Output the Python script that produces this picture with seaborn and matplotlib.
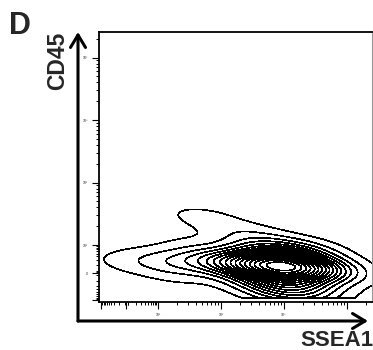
import matplotlib
matplotlib.use("Agg")
import matplotlib.pyplot as plt
import numpy as np
import seaborn as sns

# population, in axis units (decades on a logicle-like scale)
ssea1 = [3.98, 3.6, 4.35, 3.98, 3.98, 3.3, 4.65, 3.6, 4.35, 3.6, 4.35, 4.85, 3.98, 4.3,
         3.0, 2.6, 2.2, 1.8, 1.4, 2.6, 2.3,
         2.6, 2.85, 3.3, 3.6]
cd45 = [1.67, 1.68, 1.65, 1.88, 1.46, 1.70, 1.62, 1.92, 1.90, 1.44, 1.42, 1.60, 1.26, 1.25,
        1.72, 1.73, 1.73, 1.73, 1.72, 1.98, 1.50,
        2.48, 2.40, 2.20, 2.12]
counts = [30, 14, 14, 8, 10, 8, 5, 4, 4, 5, 5, 1.5, 6, 4,
          5, 3.5, 2.5, 1.5, 0.8, 1.2, 1.0,
          0.9, 1.0, 1.3, 1.5]

x_major = [1.1, 1.5, 2, 3, 4, 5]
x_labels = ["", "", "10²", "10³", "10⁴", ""]
y_major = [1.12, 1.55, 2, 3, 4, 5]
y_labels = ["", "0", "10²", "10³", "10⁴", "10⁵"]


def decade_minor(lo, hi):
    k = np.arange(2, 10)
    return list(lo + (hi - lo) * np.log10(k))


def setup_style():
    sns.set_theme(style="white")
    plt.rcParams.update({
        "font.family": ["Liberation Sans", "DejaVu Sans"],
        "axes.linewidth": 1.3,
    })


def main():
    setup_style()
    fig = plt.figure(figsize=(3.73, 3.5), dpi=100)
    ax = fig.add_axes([99 / 373, 48 / 350, 273 / 373, 270 / 350])

    sns.kdeplot(x=ssea1, y=cd45, weights=counts, levels=18, thresh=0.02,
                bw_adjust=1.0, fill=True, gridsize=250,
                clip=((1.0, 5.5), (1.15, 5.5)), ax=ax)
    # outline-only contour bands, closed along the lower edge like the original
    cset = ax.collections[-1]
    cset.set_facecolor("none")
    cset.set_edgecolor("black")
    cset.set_linewidth(0.45)

    ax.set_xlim(1.065, 5.4)
    ax.set_ylim(1.09, 5.41)
    ax.set_xlabel("")
    ax.set_ylabel("")

    for side in ["left", "bottom", "top"]:
        ax.spines[side].set_color("black")
    ax.spines["right"].set_color("#999999")
    ax.spines["right"].set_linewidth(0.8)

    xm = decade_minor(2, 3) + decade_minor(3, 4) + decade_minor(4, 5) + decade_minor(5, 6)[:1]
    xm += decade_minor(1.5, 2) + [1.5 - 0.4 * v for v in np.log10(np.arange(2, 10))]
    xm += [1.48, 1.52, 1.53]
    ym = decade_minor(2, 3) + decade_minor(3, 4) + decade_minor(4, 5) + decade_minor(5, 6)[:1]
    ym += decade_minor(1.55, 2) + [1.55 - 0.43 * v for v in np.log10(np.arange(2, 10))]
    ym += [1.53, 1.57, 1.58]

    ax.set_xticks(x_major)
    ax.set_xticklabels(x_labels, fontsize=2.5)
    ax.set_xticks([v for v in xm if v < 5.4], minor=True)
    ax.set_yticks(y_major)
    ax.set_yticklabels(y_labels, fontsize=2.5)
    ax.set_yticks([v for v in ym if v < 5.41], minor=True)
    ax.tick_params(which="major", direction="out", length=5, width=0.8, color="black",
                   bottom=True, left=True, pad=3)
    ax.tick_params(which="minor", direction="out", length=2.2, width=0.7, color="black",
                   bottom=True, left=True)

    corner = (78 / 373, 29 / 350)
    arrow = dict(arrowstyle="->,head_length=0.75,head_width=0.45", color="black",
                 linewidth=2.2, shrinkA=0, shrinkB=0)
    ax.annotate("", xy=(78 / 373, 318 / 350), xytext=corner, xycoords="figure fraction",
                textcoords="figure fraction", arrowprops=arrow, annotation_clip=False)
    ax.annotate("", xy=(368 / 373, 29 / 350), xytext=corner, xycoords="figure fraction",
                textcoords="figure fraction", arrowprops=arrow, annotation_clip=False)

    bold = dict(family="Liberation Sans", weight="bold")
    fig.text(20 / 373, 1 - 26 / 350, "D", fontsize=22, va="center", ha="center", **bold)
    fig.text(58 / 373, 1 - 61 / 350, "CD45", fontsize=16.5, rotation=90,
             va="center", ha="center", **bold)
    fig.text(337 / 373, 1 - 340 / 350, "SSEA1", fontsize=16, va="center", ha="center", **bold)

    fig.savefig("out.png", dpi=100, facecolor="white")
    plt.close(fig)


if __name__ == "__main__":
    main()
